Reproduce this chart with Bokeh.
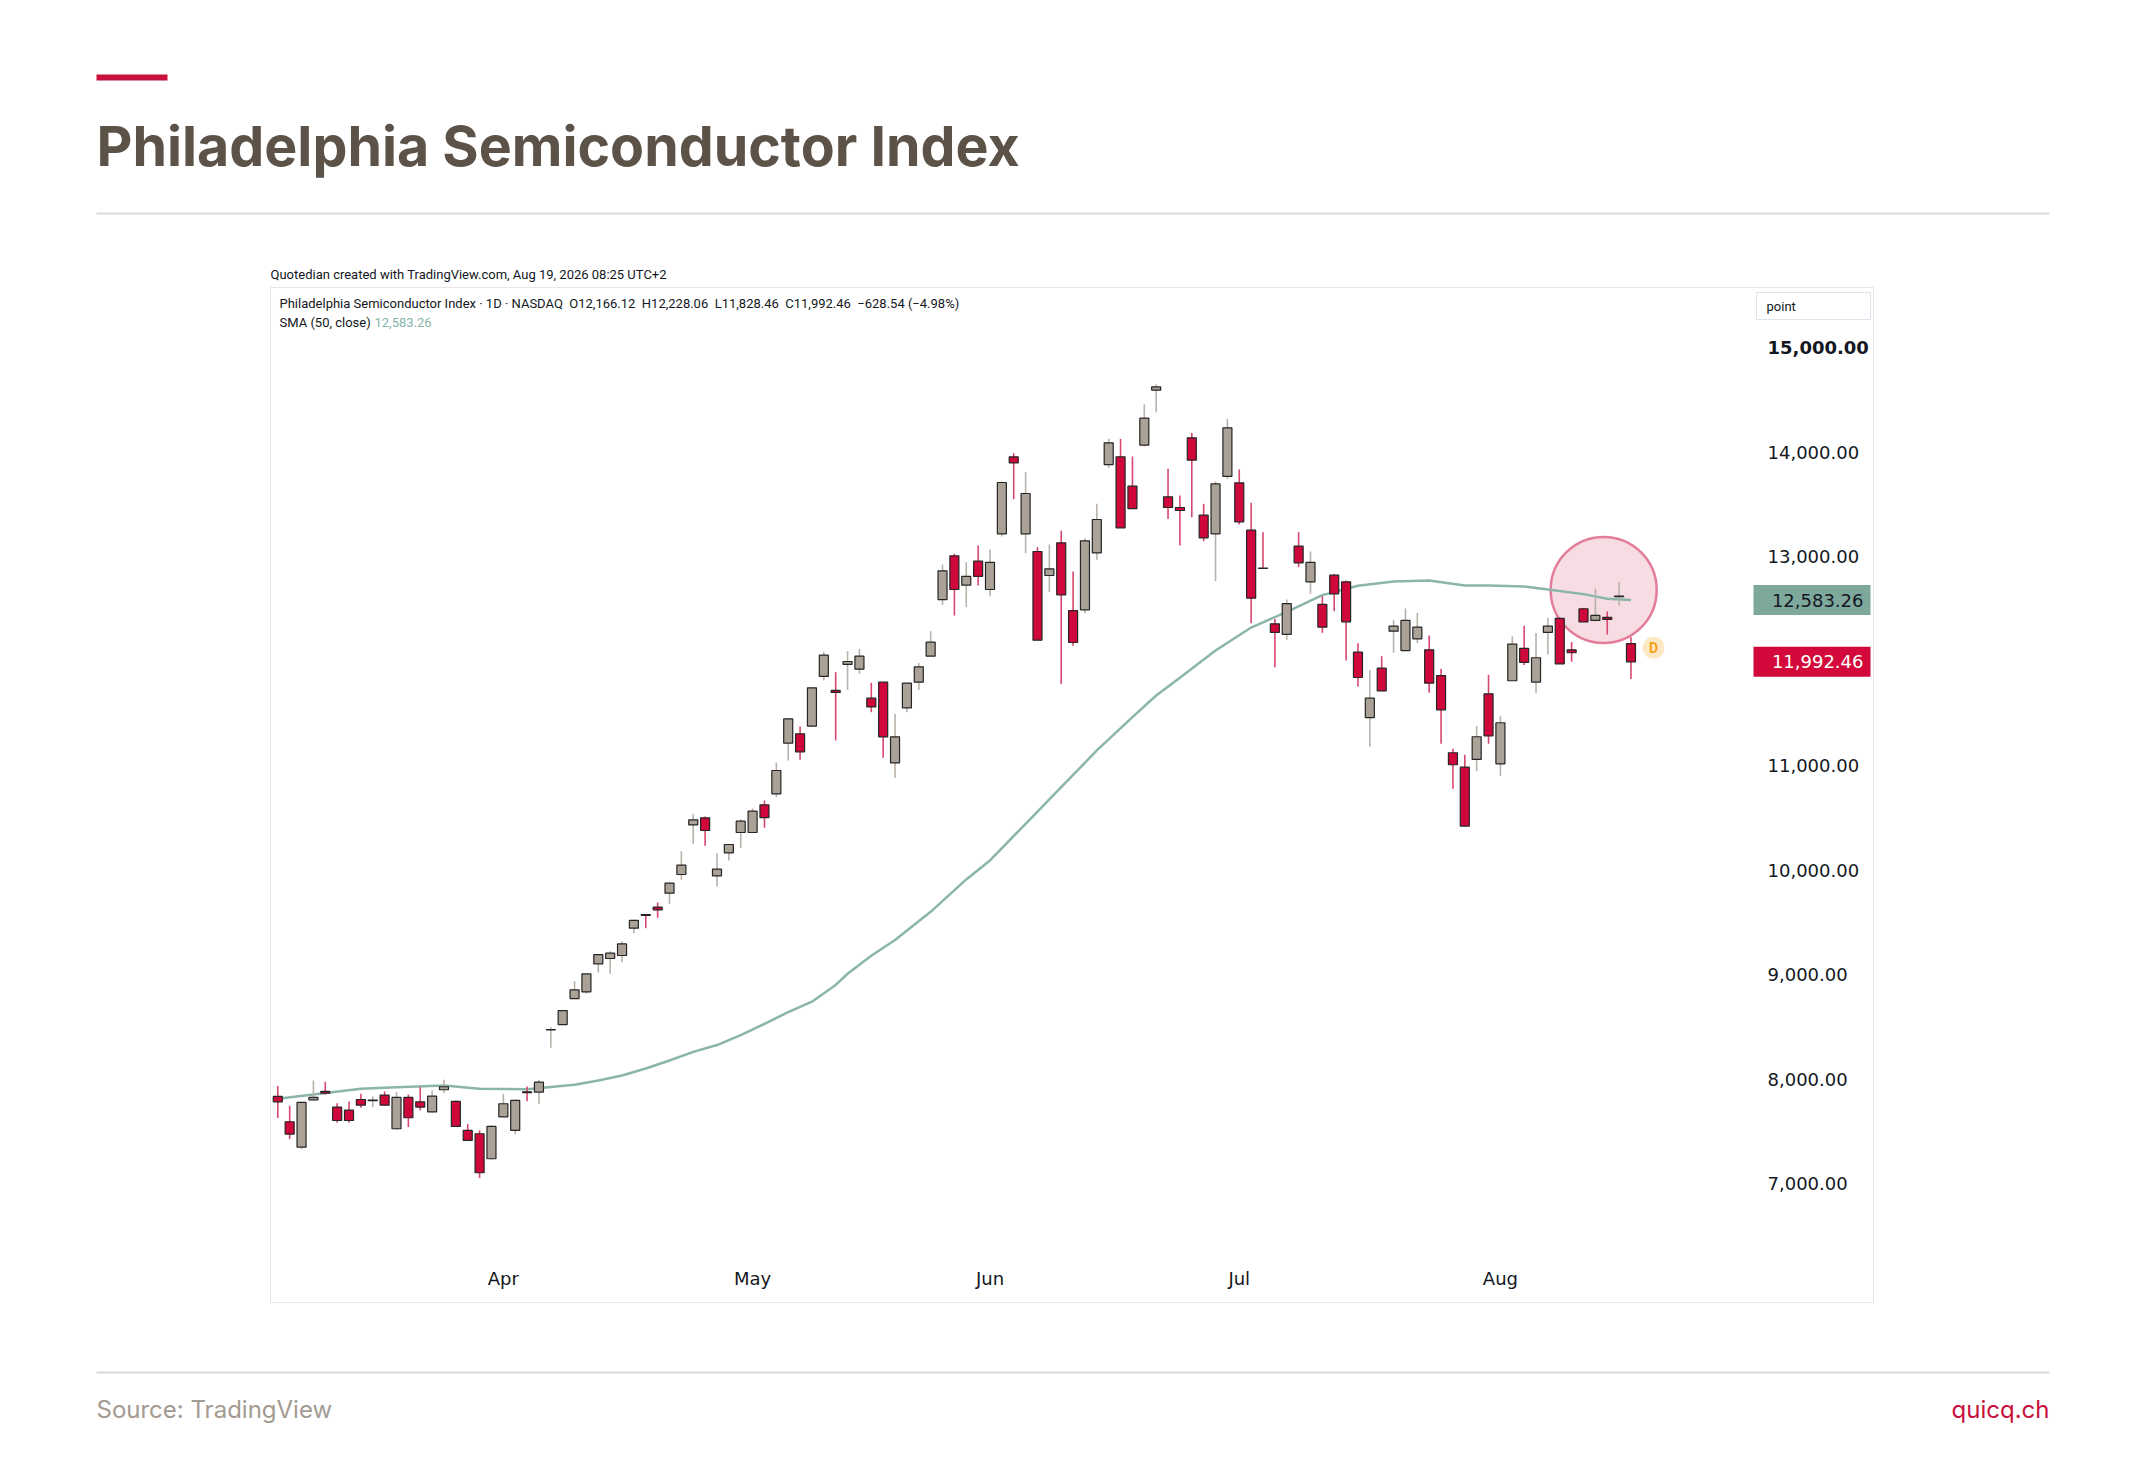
from bokeh.plotting import figure
from bokeh.models import Range1d, FixedTicker, NumeralTickFormatter, Label, BoxAnnotation, ColumnDataSource
from bokeh.core.properties import value
from bokeh.embed import file_html
from bokeh.resources import INLINE

# ---------------- data ----------------
title_text = "Philadelphia Semiconductor Index"
credit_text = "Quotedian created with TradingView.com, Aug 19, 2026 08:25 UTC+2"
legend_main = ("Philadelphia Semiconductor Index \u00b7 1D \u00b7 NASDAQ\u00a0\u00a0O12,166.12\u00a0\u00a0H12,228.06"
               "\u00a0\u00a0L11,828.46\u00a0\u00a0C11,992.46\u00a0\u00a0\u2212628.54 (\u22124.98%)")
legend_sma = "SMA (50, close)"
source_text = "Source: TradingView"
brand_text = "quicq.ch"

month_labels = ["Apr", "May", "Jun", "Jul", "Aug"]
month_start_bar = [19, 40, 60, 81, 103]
price_ticks = [7000, 8000, 9000, 10000, 11000, 12000, 13000, 14000, 15000]
emphasised_tick = 15000

open_ = [7833, 7591, 7348, 7801, 7881, 7731, 7702, 7804, 7793, 7846,
         7524, 7824, 7782, 7686, 7897, 7785, 7508, 7476, 7237, 7638,
         7508, 7877, 7875, 8470, 8521, 8770, 8834, 9102, 9153, 9182,
         9443, 9574, 9644, 9778, 9957, 10432, 10499, 9944, 10164, 10359,
         10359, 10624, 10729, 11214, 11303, 11376, 11852, 11718, 11967, 11922,
         11644, 11797, 11025, 11552, 11797, 12046, 12588, 13006, 12726, 12955,
         12684, 13217, 13954, 13217, 13048, 12818, 13131, 12483, 12490, 13035,
         13880, 13954, 13673, 14065, 14592, 13571, 13469, 14136, 13396, 13217,
         13766, 13705, 13252, 12888, 12356, 12254, 13099, 12758, 12541, 12821,
         12758, 12084, 11459, 11931, 12285, 12100, 12212, 12107, 11861, 11122,
         10984, 11058, 11686, 11016, 11811, 12120, 11798, 12273, 12407, 12107,
         12500, 12388, 12417, 12615, 12166.12]
high = [7932, 7744, 7782, 7986, 7973, 7769, 7785, 7859, 7833, 7881,
        7875, 7852, 7922, 7890, 7993, 7795, 7571, 7508, 7556, 7859,
        7804, 7929, 7990, 8496, 8661, 8936, 9006, 9191, 9223, 9319,
        9523, 9580, 9689, 9880, 10180, 10537, 10512, 10161, 10244, 10486,
        10589, 10665, 11029, 11447, 11373, 11749, 12088, 11893, 12094, 12116,
        11791, 11797, 11494, 11788, 11982, 12285, 12923, 13026, 12946, 13105,
        13067, 13718, 13989, 13807, 13089, 13115, 13246, 12856, 13175, 13504,
        14126, 14126, 13957, 14455, 14646, 13839, 13584, 14183, 13504, 13718,
        14317, 13833, 13514, 13233, 12403, 12588, 13233, 13048, 12620, 12834,
        12770, 12171, 11915, 12046, 12394, 12502, 12461, 12244, 11925, 11160,
        11102, 11377, 11868, 11472, 12235, 12337, 12267, 12414, 12407, 12181,
        12509, 12691, 12474, 12755, 12228.06]
low = [7626, 7425, 7329, 7795, 7852, 7581, 7581, 7725, 7731, 7745,
       7514, 7540, 7699, 7680, 7865, 7540, 7406, 7052, 7230, 7635,
       7469, 7788, 7763, 8298, 8521, 8770, 8815, 9019, 9006, 9118,
       9395, 9443, 9542, 9676, 9906, 10250, 10231, 9842, 10091, 10212,
       10359, 10404, 10697, 11048, 11054, 11376, 11813, 11239, 11724, 11877,
       11510, 11073, 10882, 11510, 11724, 12046, 12537, 12435, 12515, 12723,
       12620, 13191, 13549, 13032, 12199, 12659, 11781, 12145, 12458, 12968,
       13849, 13274, 13459, 14053, 14381, 13360, 13105, 13376, 13147, 12764,
       13743, 13306, 12362, 12880, 11941, 12203, 12898, 12643, 12270, 12477,
       12005, 11756, 11182, 11714, 12078, 12100, 12171, 11695, 11207, 10777,
       10420, 10946, 11208, 10901, 11811, 11961, 11696, 12063, 11973, 11993,
       12375, 12388, 12254, 12532, 11828.46]
close = [7782, 7473, 7776, 7824, 7865, 7603, 7603, 7750, 7797, 7750,
         7824, 7629, 7731, 7836, 7926, 7546, 7412, 7103, 7546, 7763,
         7795, 7869, 7970, 8472, 8655, 8853, 9006, 9191, 9204, 9293,
         9517, 9565, 9619, 9874, 10046, 10480, 10378, 10008, 10244, 10467,
         10563, 10502, 10952, 11447, 11131, 11743, 12056, 11699, 11995, 12046,
         11561, 11274, 11274, 11788, 11944, 12180, 12863, 12684, 12809, 12809,
         12943, 13708, 13896, 13603, 12199, 12882, 12633, 12177, 13150, 13354,
         14088, 13274, 13459, 14324, 14624, 13469, 13440, 13922, 13179, 13695,
         14231, 13332, 12601, 12885, 12273, 12550, 12939, 12943, 12324, 12643,
         12375, 11842, 11644, 11714, 12333, 12388, 12324, 11788, 11533, 11007,
         10420, 11275, 11284, 11409, 12162, 11986, 12031, 12334, 11973, 12079,
         12375, 12436, 12398, 12621.00, 11992.46]

sma_bar = [0, 3, 7, 10, 14, 17, 21, 25, 27, 29, 31, 33, 35, 37, 39, 41, 43, 45, 47, 48,
           50, 52, 55, 58, 60, 63, 66, 69, 72, 74, 76, 79, 82, 85, 88, 91, 94, 97, 100,
           102, 105, 107, 110, 112, 114]
sma_value = [7811, 7852, 7906, 7922, 7938, 7906, 7903, 7945, 7985, 8034, 8100, 8177, 8260,
             8325, 8420, 8528, 8640, 8740, 8900, 9007, 9180, 9330, 9600, 9910, 10091, 10442,
             10793, 11144, 11463, 11670, 11840, 12100, 12320, 12470, 12630, 12720, 12760,
             12771, 12723, 12722, 12712, 12685, 12640, 12595, 12583.26]

highlight_bar = 111.7
highlight_price = 12680

# ---------------- page geometry (reference pixels) ----------------
W, H = 2140, 1452
PANE_L, PANE_R, PANE_B = 270, 1750, 1258
BAR0_PX, BAR_PX = 277.3, 11.87
REF_PRICE, REF_PX, PX_PER_PT = 15000.0, 347.0, 104.5 / 1000.0


def px2x(X):
    return (X - BAR0_PX) / BAR_PX


def px2y(Y):
    return REF_PRICE - (Y - REF_PX) / PX_PER_PT


def price2px(v):
    return REF_PX + (REF_PRICE - v) * PX_PER_PT


p = figure(frame_width=W, frame_height=H,
           x_range=Range1d(px2x(0), px2x(W)),
           y_range=Range1d(px2y(H), px2y(0)),
           y_axis_location="right", x_axis_location="below",
           min_border=0, min_border_left=0, min_border_right=0,
           min_border_top=0, min_border_bottom=0,
           output_backend="svg", toolbar_location=None)
p.outline_line_color = None
p.background_fill_color = "white"
p.border_fill_color = "white"
p.xgrid.visible = False
p.ygrid.visible = False

# axes (drawn at the pane edges)
ya = p.yaxis[0]
ya.fixed_location = px2x(PANE_R)
ya.ticker = FixedTicker(ticks=price_ticks)
ya.formatter = NumeralTickFormatter(format="0,0.00")
ya.major_label_overrides = {12000: "", emphasised_tick: ""}
ya.axis_line_color = None
ya.major_tick_line_color = None
ya.minor_tick_line_color = None
ya.major_tick_out = 0
ya.major_tick_in = 0
ya.major_label_standoff = 17
ya.major_label_text_font = "DejaVu Sans"
ya.major_label_text_font_size = "18px"
ya.major_label_text_color = "#131722"

xa = p.xaxis[0]
xa.fixed_location = px2y(PANE_B)
xa.ticker = FixedTicker(ticks=month_start_bar)
xa.major_label_overrides = {b: m for b, m in zip(month_start_bar, month_labels)}
xa.axis_line_color = None
xa.major_tick_line_color = None
xa.minor_tick_line_color = None
xa.major_tick_out = 0
xa.major_tick_in = 0
xa.major_label_standoff = 9
xa.major_label_text_font = "DejaVu Sans"
xa.major_label_text_font_size = "18px"
xa.major_label_text_color = "#131722"


def add_box(L, R, T, B, fill=None, line=None, lw=1, level="annotation"):
    p.add_layout(BoxAnnotation(left=px2x(L), right=px2x(R), top=px2y(T), bottom=px2y(B),
                               fill_color=fill if fill else "white", fill_alpha=1 if fill else 0,
                               line_color=line if line else "white", line_alpha=1 if line else 0,
                               line_width=lw, level=level))


def add_text(X, Y, text, size, color, font="Roboto", style="normal", align="left", baseline="middle"):
    p.add_layout(Label(x=px2x(X), y=px2y(Y), text=text, text_font=font, text_font_size=f"{size}px",
                       text_color=color, text_font_style=style, text_align=align, text_baseline=baseline))


# page decorations
add_box(96, 167, 74, 80, fill="#c8103c")
add_text(96, 145, title_text, 55.5, "#5c5248", font="Inter", style="bold", baseline="alphabetic")
add_box(96, 2049, 212, 214, fill="#dadada")
add_text(270, 274, credit_text, 13, "#131722")
add_box(270, 1873, 287, 1302, line="#e6e6e6", level="underlay")
add_text(279, 303, legend_main, 13, "#131722")
add_text(279, 322, legend_sma, 13, "#131722")
add_text(374, 322, f"{sma_value[-1]:,.2f}", 13, "#86b5ab")
add_box(1756, 1870, 292, 319, fill="white", line="#e0e3eb")
add_text(1766, 305.5, "point", 13, "#131722")
add_box(96, 2049, 1371, 1373, fill="#dadada")
add_text(96, 1409, source_text, 24, "#a39a91", font="Inter")
add_text(2049, 1409, brand_text, 24, "#c8103c", font="Inter", align="right")

# emphasised top price level (bold on the scale)
add_text(PANE_R + 17, price2px(emphasised_tick), f"{emphasised_tick:,.2f}", 18, "#131722",
         font="DejaVu Sans", style="bold")

# highlight circle
p.scatter(x=[highlight_bar], y=[highlight_price], size=106, marker="circle",
          fill_color="#f7dce4", line_color="#e37d99", line_width=2.5)

# SMA
p.line(sma_bar, sma_value, line_color="#8ab5ab", line_width=2.5)

# candles
n = len(close)
idx = list(range(n))
up = [c >= o for o, c in zip(open_, close)]
src = ColumnDataSource(dict(
    x=idx, o=open_, h=high, l=low, c=close,
    top=[max(o, c) for o, c in zip(open_, close)],
    bottom=[min(o, c) for o, c in zip(open_, close)],
    fill=["#aaa197" if u else "#d0073b" for u in up],
    wick=["#b9b2aa" if u else "#d8486e" for u in up],
))
p.segment(x0="x", y0="l", x1="x", y1="h", source=src, line_color="wick", line_width=1.6)
p.vbar(x="x", width=0.76, top="top", bottom="bottom", source=src,
       fill_color="fill", line_color="#262626", line_width=1.2)

# "D" marker beside the last bar
p.scatter(x=[n - 1 + 1.9], y=[open_[-1] - 40], size=22, marker="circle",
          fill_color="#fde8c6", line_color=None)
p.text(x=[n - 1 + 1.9], y=[open_[-1] - 40], text=["D"], text_font=value("Roboto"),
       text_font_style="bold", text_font_size="14px", text_color="#f5a01a",
       text_align="center", text_baseline="middle")

# price labels on the scale
for val, fill, tcol in ((sma_value[-1], "#7fa89d", "#131722"), (close[-1], "#d2093a", "#ffffff")):
    yc = price2px(val)
    add_box(1753, 1870, yc - 15, yc + 15, fill=fill)
    add_text(1863, yc, f"{val:,.2f}", 18, tcol, font="DejaVu Sans", align="right")

open("out.html", "w").write(file_html(p, INLINE))
